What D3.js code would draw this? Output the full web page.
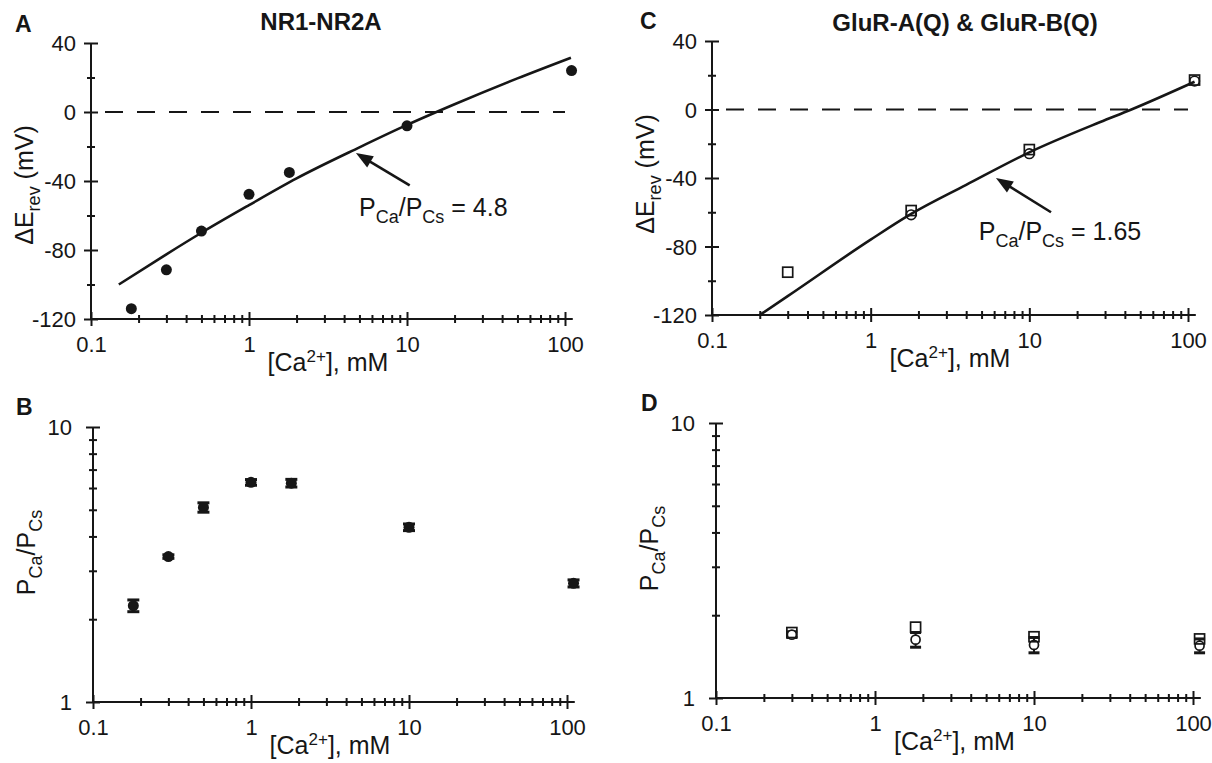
<!DOCTYPE html>
<html><head><meta charset="utf-8">
<script src="https://cdn.jsdelivr.net/npm/d3@7"></script>
<style>body{margin:0;background:#fff}</style>
</head><body>
<svg id="c" width="1212" height="763"></svg>
<script>
// ---------------- data ----------------
const xMajorTicks = [0.1, 1, 10, 100];
const xTickLabels = ["0.1", "1", "10", "100"];
const xMinorTicks = [0.2,0.3,0.4,0.5,0.6,0.7,0.8,0.9, 2,3,4,5,6,7,8,9, 20,30,40,50,60,70,80,90];
const xDomain = [0.1, 100];
const xAxisEnd = 112;

const erevDomain = [-120, 40];
const erevTicks = [40, 0, -40, -80, -120];
const erevMinorTicks = [20, -20, -60, -100];
const ratioDomain = [1, 10];
const ratioTicks = [1, 10];
const ratioMinorTicks = [2, 3, 4, 5, 6, 7, 8, 9];

// Panel A: NR1-NR2A reversal potential shifts
const nmdaConc = [0.18, 0.3, 0.5, 1, 1.8, 10, 110];
const nmdaErev = [-114, -91.5, -69, -47.7, -35, -8, 24];
const nmdaFitConc = [0.15, 0.3, 0.5, 1, 2, 5, 10, 20, 50, 109];
const nmdaFitErev = [-100, -82.5, -70, -54, -38.5, -20.5, -7.5, 4.5, 19.5, 31.5];

// Panel B: NR1-NR2A permeability ratios
const nmdaRatio = [2.24, 3.38, 5.1, 6.29, 6.25, 4.32, 2.70];
const nmdaRatioErr = [0.11, 0.05, 0.2, 0.15, 0.2, 0.12, 0.08];

// Panel C: GluR-A(Q) (squares) & GluR-B(Q) (circles)
const gluConcSq = [0.3, 1.8, 10, 110];
const gluErevSq = [-95, -59, -23.4, 17.2];
const gluConcCi = [1.8, 10, 110];
const gluErevCi = [-61.5, -25.8, 16.6];
const gluFitConc = [0.2, 0.3, 1, 1.8, 4, 10, 28, 44, 110];
const gluFitErev = [-120, -109, -76, -61, -44, -25, -7.3, 0, 16.2];

// Panel D: GluR permeability ratios
const gluRatioConc = [0.3, 1.8, 10, 110];
const gluRatioSq = [1.73, 1.81, 1.67, 1.64];
const gluRatioCi = [1.70, 1.63, 1.56, 1.55];
const gluRatioCiErr = [0.04, 0.10, 0.10, 0.09];

// zero reference line and annotations (data space)
const zeroLineConc = [0.1, 100];
const zeroLineErev = [0, 0];
const arrowA = [[10.4, -42.6], [4.75, -23.8]];
const arrowC = [[13.7, -60], [6.16, -40]];
const labelA = {conc: 4.97, erev: -60.3, value: "4.8"};
const labelC = {conc: 4.8, erev: -76.2, value: "1.65"};
const titles = {A: "NR1-NR2A", C: "GluR-A(Q) & GluR-B(Q)"};

// ---------------- layout ----------------
const FONT = "'Liberation Sans', Arial, Helvetica, sans-serif";
const INK = "#161616";
const layout = {
  A: {x0: 91, x1: 565, yTop: 43, yBot: 319, letter: [15, 32], title: [321, 30], yLabelDy: 4},
  B: {x0: 93, x1: 567, yTop: 427, yBot: 702, letter: [16, 415], yLabelDy: -12},
  C: {x0: 712, x1: 1188, yTop: 41, yBot: 315, letter: [640, 29], title: [965, 31], yLabelDy: -4},
  D: {x0: 716, x1: 1193, yTop: 423, yBot: 698, letter: [641, 411], yLabelDy: -12}
};

const svg = d3.select("#c").attr("font-family", FONT);

function xAxis(g, p, x) {
  const gx = g.append("g").attr("transform", `translate(0,${p.yBot})`).attr("color", INK);
  gx.call(d3.axisBottom(x).tickValues(xMajorTicks)
    .tickFormat(d => xTickLabels[xMajorTicks.indexOf(d)]).tickSize(7));
  gx.append("g").attr("class", "minor").call(d3.axisBottom(x).tickValues(xMinorTicks).tickFormat("").tickSize(4));
  gx.selectAll(".domain").remove();
  gx.selectAll(".tick line").attr("stroke-width", 2).each(function () {
    const s = +d3.select(this).attr("y2"); d3.select(this).attr("y1", -s);
  });
  gx.selectAll(".tick text").attr("y", 33).attr("dy", null)
    .attr("font-size", 22).attr("font-family", FONT).attr("fill", INK);
  gx.append("line").attr("x1", x(xDomain[0])).attr("x2", x(xAxisEnd))
    .attr("stroke", INK).attr("stroke-width", 2);
  const t = g.append("text").attr("x", (p.x0 + p.x1) / 2).attr("y", p.yBot + 52)
    .attr("text-anchor", "middle").attr("font-size", 25).attr("fill", INK);
  t.append("tspan").text("[Ca");
  t.append("tspan").attr("font-size", 17).attr("dy", -9).text("2+");
  t.append("tspan").attr("dy", 9).text("], mM");
}

function yAxis(g, p, y, ticks, minors, labelGap) {
  const gy = g.append("g").attr("transform", `translate(${p.x0},0)`).attr("color", INK);
  gy.call(d3.axisLeft(y).tickValues(ticks).tickFormat(d => String(d)).tickSize(7));
  gy.append("g").call(d3.axisLeft(y).tickValues(minors).tickFormat("").tickSize(4));
  gy.selectAll(".domain").remove();
  gy.selectAll(".tick line").attr("stroke-width", 2).each(function () {
    const s = +d3.select(this).attr("x2"); d3.select(this).attr("x1", -s);
  });
  gy.selectAll(".tick text").attr("x", -labelGap).attr("dy", "0.36em")
    .attr("font-size", 22).attr("font-family", FONT).attr("fill", INK);
  gy.append("line").attr("y1", y.range()[0]).attr("y2", y.range()[1])
    .attr("stroke", INK).attr("stroke-width", 2);
}

function yLabelErev(g, p) {
  const t = g.append("text")
    .attr("transform", `translate(${p.x0 - 58},${(p.yTop + p.yBot) / 2 + p.yLabelDy}) rotate(-90)`)
    .attr("text-anchor", "middle").attr("font-size", 25).attr("fill", INK);
  t.append("tspan").text("\u0394E");
  t.append("tspan").attr("font-size", 18).attr("dy", 7).text("rev");
  t.append("tspan").attr("dy", -7).text(" (mV)");
}
function yLabelRatio(g, p) {
  const t = g.append("text")
    .attr("transform", `translate(${p.x0 - 58},${(p.yTop + p.yBot) / 2 + p.yLabelDy}) rotate(-90)`)
    .attr("text-anchor", "middle").attr("font-size", 25).attr("fill", INK);
  t.append("tspan").text("P");
  t.append("tspan").attr("font-size", 18).attr("dy", 7).text("Ca");
  t.append("tspan").attr("dy", -7).text("/P");
  t.append("tspan").attr("font-size", 18).attr("dy", 7).text("Cs");
}
function ratioLabel(g, x, y, lab) {
  const t = g.append("text").attr("x", x(lab.conc)).attr("y", y(lab.erev))
    .attr("font-size", 25).attr("fill", INK);
  t.append("tspan").text("P");
  t.append("tspan").attr("font-size", 18).attr("dy", 7).text("Ca");
  t.append("tspan").attr("dy", -7).text("/P");
  t.append("tspan").attr("font-size", 18).attr("dy", 7).text("Cs");
  t.append("tspan").attr("dy", -7).text(" = " + lab.value);
}
function arrow(g, x, y, a) {
  const x1 = x(a[0][0]), y1 = y(a[0][1]), x2 = x(a[1][0]), y2 = y(a[1][1]);
  const ang = Math.atan2(y2 - y1, x2 - x1), L = 17, W = 6.5;
  const bx = x2 - L * Math.cos(ang), by = y2 - L * Math.sin(ang);
  g.append("line").attr("x1", x1).attr("y1", y1).attr("x2", bx + 2 * Math.cos(ang)).attr("y2", by + 2 * Math.sin(ang))
    .attr("stroke", INK).attr("stroke-width", 2.6);
  g.append("polygon").attr("fill", INK).attr("points", [
    [x2, y2],
    [bx - W * Math.sin(ang), by + W * Math.cos(ang)],
    [bx + W * Math.sin(ang), by - W * Math.cos(ang)]
  ].map(d => d.join(",")).join(" "));
}
function dashedZero(g, x, y) {
  g.append("path").datum(d3.zip(zeroLineConc, zeroLineErev))
    .attr("d", d3.line().x(d => x(d[0])).y(d => y(d[1])))
    .attr("fill", "none").attr("stroke", INK).attr("stroke-width", 2)
    .attr("stroke-dasharray", "18,14").attr("stroke-dashoffset", -14);
}
function fitCurve(g, x, y, cs, vs) {
  g.append("path").datum(d3.zip(cs, vs))
    .attr("d", d3.line().curve(d3.curveMonotoneX).x(d => x(d[0])).y(d => y(d[1])))
    .attr("fill", "none").attr("stroke", INK).attr("stroke-width", 2.6);
}
function errBar(g, x, y, c, v, e, cap) {
  const xc = x(c);
  g.append("line").attr("x1", xc).attr("x2", xc).attr("y1", y(v - e)).attr("y2", y(v + e))
    .attr("stroke", INK).attr("stroke-width", 2);
  [v - e, v + e].forEach(b => g.append("line").attr("x1", xc - cap / 2).attr("x2", xc + cap / 2)
    .attr("y1", y(b)).attr("y2", y(b)).attr("stroke", INK).attr("stroke-width", 3));
}
function letterAndTitle(key) {
  const p = layout[key];
  svg.append("text").attr("x", p.letter[0]).attr("y", p.letter[1]).attr("font-size", 23)
    .attr("font-weight", "bold").attr("fill", INK).text(key);
  if (titles[key]) svg.append("text").attr("x", p.title[0]).attr("y", p.title[1])
    .attr("text-anchor", "middle").attr("font-size", 24).attr("font-weight", "bold")
    .attr("fill", INK).text(titles[key]);
}

// ---------------- Panel A ----------------
(function () {
  const p = layout.A, g = svg.append("g");
  const x = d3.scaleLog().domain(xDomain).range([p.x0, p.x1]);
  const y = d3.scaleLinear().domain(erevDomain).range([p.yBot, p.yTop]);
  dashedZero(g, x, y);
  xAxis(g, p, x); yAxis(g, p, y, erevTicks, erevMinorTicks, 15); yLabelErev(g, p);
  fitCurve(g, x, y, nmdaFitConc, nmdaFitErev);
  g.selectAll("circle.pt").data(d3.zip(nmdaConc, nmdaErev)).join("circle").attr("class", "pt")
    .attr("cx", d => x(d[0])).attr("cy", d => y(d[1])).attr("r", 5.5).attr("fill", INK);
  arrow(g, x, y, arrowA);
  ratioLabel(g, x, y, labelA);
  letterAndTitle("A");
})();

// ---------------- Panel B ----------------
(function () {
  const p = layout.B, g = svg.append("g");
  const x = d3.scaleLog().domain(xDomain).range([p.x0, p.x1]);
  const y = d3.scaleLog().domain(ratioDomain).range([p.yBot, p.yTop]);
  xAxis(g, p, x); yAxis(g, p, y, ratioTicks, ratioMinorTicks, 21); yLabelRatio(g, p);
  nmdaConc.forEach((c, i) => errBar(g, x, y, c, nmdaRatio[i], nmdaRatioErr[i], 12));
  g.selectAll("circle.pt").data(d3.zip(nmdaConc, nmdaRatio)).join("circle").attr("class", "pt")
    .attr("cx", d => x(d[0])).attr("cy", d => y(d[1])).attr("r", 5.5).attr("fill", INK);
  letterAndTitle("B");
})();

// ---------------- Panel C ----------------
(function () {
  const p = layout.C, g = svg.append("g");
  const x = d3.scaleLog().domain(xDomain).range([p.x0, p.x1]);
  const y = d3.scaleLinear().domain(erevDomain).range([p.yBot, p.yTop]);
  dashedZero(g, x, y);
  xAxis(g, p, x); yAxis(g, p, y, erevTicks, erevMinorTicks, 15); yLabelErev(g, p);
  fitCurve(g, x, y, gluFitConc, gluFitErev);
  g.selectAll("circle.pt").data(d3.zip(gluConcCi, gluErevCi)).join("circle").attr("class", "pt")
    .attr("cx", d => x(d[0])).attr("cy", d => y(d[1])).attr("r", 4.8)
    .attr("fill", "none").attr("stroke", INK).attr("stroke-width", 1.7);
  g.selectAll("rect.pt").data(d3.zip(gluConcSq, gluErevSq)).join("rect").attr("class", "pt")
    .attr("x", d => x(d[0]) - 5).attr("y", d => y(d[1]) - 5).attr("width", 10).attr("height", 10)
    .attr("fill", "none").attr("stroke", INK).attr("stroke-width", 1.7);
  arrow(g, x, y, arrowC);
  ratioLabel(g, x, y, labelC);
  letterAndTitle("C");
})();

// ---------------- Panel D ----------------
(function () {
  const p = layout.D, g = svg.append("g");
  const x = d3.scaleLog().domain(xDomain).range([p.x0, p.x1]);
  const y = d3.scaleLog().domain(ratioDomain).range([p.yBot, p.yTop]);
  xAxis(g, p, x); yAxis(g, p, y, ratioTicks, ratioMinorTicks, 21); yLabelRatio(g, p);
  gluRatioConc.forEach((c, i) => errBar(g, x, y, c, gluRatioCi[i], gluRatioCiErr[i], 11));
  g.selectAll("circle.pt").data(d3.zip(gluRatioConc, gluRatioCi)).join("circle").attr("class", "pt")
    .attr("cx", d => x(d[0])).attr("cy", d => y(d[1])).attr("r", 4.5)
    .attr("fill", "#fff").attr("stroke", INK).attr("stroke-width", 1.7);
  g.selectAll("rect.pt").data(d3.zip(gluRatioConc, gluRatioSq)).join("rect").attr("class", "pt")
    .attr("x", d => x(d[0]) - 5).attr("y", d => y(d[1]) - 5).attr("width", 10).attr("height", 10)
    .attr("fill", "none").attr("stroke", INK).attr("stroke-width", 1.7);
  letterAndTitle("D");
})();
</script>
</body></html>
